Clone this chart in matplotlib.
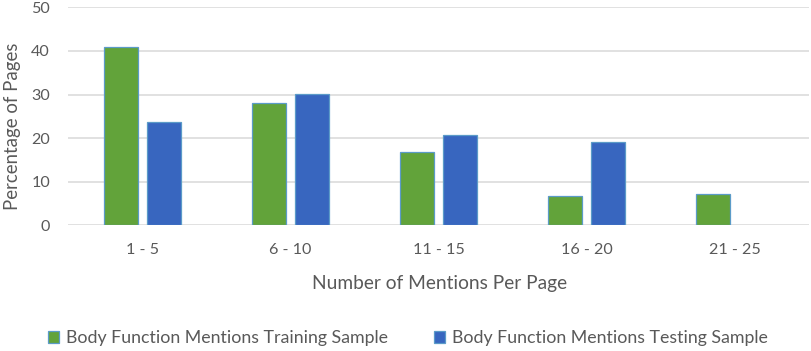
import matplotlib
matplotlib.use("Agg")
import matplotlib.pyplot as plt
from matplotlib.patches import Patch
import numpy as np

categories = ["1 - 5", "6 - 10", "11 - 15", "16 - 20", "21 - 25"]
training = [41.0, 28.0, 16.9, 6.8, 7.1]
testing = [23.7, 30.1, 20.6, 19.0, None]
series_names = ["Body Function Mentions Training Sample",
                "Body Function Mentions Testing Sample"]
yticks = [0, 10, 20, 30, 40, 50]
xlabel = "Number of Mentions Per Page"
ylabel = "Percentage of Pages"

plt.rcParams['font.family'] = ['Lato', 'DejaVu Sans']
TXT = "#595959"
GREEN = "#62A33A"
BLUE = "#3866BF"
EDGE = "#5B9BC8"

W, H = 812, 351
fig = plt.figure(figsize=(W/100, H/100), dpi=100)
renderer = fig.canvas.get_renderer()

def fit(text, target_px):
    t = fig.text(0, 0, text, fontsize=10)
    w = t.get_window_extent(renderer).width
    t.remove()
    return 10 * target_px / w

tick_fs = fit("21 - 25", 52)
xl_fs = fit(xlabel, 255)
yl_fs = fit(ylabel, 167)
lg_fs = fit(series_names[0], 321)

L, R, T, B = 68, 809, 7.3, 225.3
ax = fig.add_axes([L/W, 1-B/H, (R-L)/W, (B-T)/H])

x = np.arange(len(categories))
w = 0.23
off = 0.145
tr = [v if v is not None else 0 for v in training]
te = [v if v is not None else np.nan for v in testing]
ax.bar(x - off, tr, width=w, color=GREEN, edgecolor=EDGE, linewidth=0.9, zorder=3)
ax.bar(x + off, te, width=w, color=BLUE, edgecolor=EDGE, linewidth=0.9, zorder=3)

ax.set_xlim(-0.5, len(categories) - 0.5)
ax.set_ylim(0, 50)
ax.set_yticks(yticks)
ax.set_xticks(x)
ax.set_xticklabels(categories)
ax.yaxis.grid(True, color="#D9D9D9", linewidth=1.1, zorder=0)
ax.set_axisbelow(True)
for s in ax.spines.values():
    s.set_visible(False)
ax.tick_params(axis='both', length=0, labelsize=tick_fs, colors=TXT)
ax.tick_params(axis='x', pad=(250 - B) * 0.72)
for lab in ax.get_xticklabels():
    lab.set_verticalalignment('center')
ax.tick_params(axis='y', pad=(L - 50) * 0.72)

ax.set_xlabel(xlabel, fontsize=xl_fs, color=TXT, va='center')
ax.xaxis.set_label_coords((440 - L) / (R - L), (B - 283) / (B - T))
ax.set_ylabel(ylabel, fontsize=yl_fs, color=TXT, va='center')
ax.yaxis.set_label_coords((13 - L) / (R - L), (B - 126) / (B - T))

fpx = lg_fs * 100 / 72
handles = [Patch(facecolor=GREEN, edgecolor=EDGE, linewidth=0.9),
           Patch(facecolor=BLUE, edgecolor=EDGE, linewidth=0.9)]
fig.legend(handles, series_names, loc='center', bbox_to_anchor=(408/W, 1-338/H),
           ncol=2, frameon=False, fontsize=lg_fs, labelcolor=TXT,
           handlelength=11/fpx, handleheight=11/fpx, handletextpad=7/fpx,
           columnspacing=46/fpx, borderpad=0, borderaxespad=0)

fig.savefig("out.png", dpi=100)
